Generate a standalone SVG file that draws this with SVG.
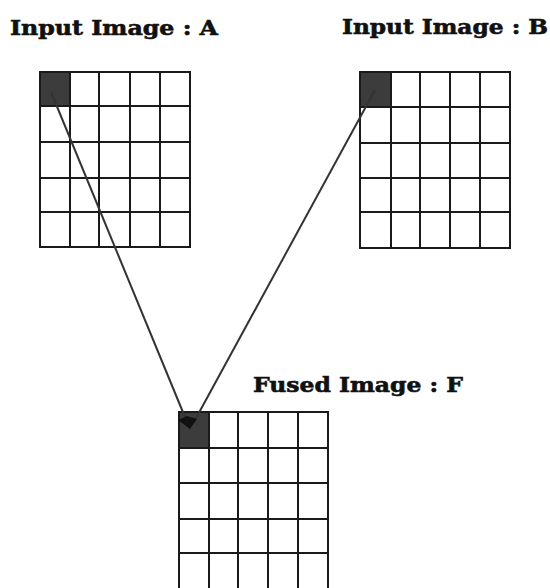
<svg xmlns="http://www.w3.org/2000/svg" width="550" height="588" viewBox="0 0 550 588">
<style>
.bg{fill:#ffffff}
.dark{fill:#3c3c3c;stroke:#1a1a1a;stroke-width:2}
.grid{fill:none;stroke:#1a1a1a;stroke-width:2}
.lbl{font-family:"DejaVu Serif","Liberation Serif",serif;font-weight:bold;font-size:20px;fill:#111111;stroke:#111111;stroke-width:0.6}
.conn{stroke:#333333;stroke-width:2;fill:none}
</style>
<rect class="bg" x="0" y="0" width="550" height="588"/>
<g id="nodeA">
<text class="lbl" x="10" y="35" textLength="208" lengthAdjust="spacingAndGlyphs">Input Image : A</text>
<rect class="dark" x="40" y="72" width="30" height="34"/>
<path class="grid" d="M40 72H190V247H40Z M40 106H190 M40 142H190 M40 178H190 M40 212H190 M70 72V247 M99 72V247 M130 72V247 M160 72V247"/>
</g>
<g id="nodeB">
<text class="lbl" x="342" y="34" textLength="206" lengthAdjust="spacingAndGlyphs">Input Image : B</text>
<rect class="dark" x="360" y="72" width="31" height="35"/>
<path class="grid" d="M360 72H510V248H360Z M360 107H510 M360 143H510 M360 178H510 M360 212H510 M391 72V248 M420 72V248 M450 72V248 M480 72V248"/>
</g>
<g id="nodeF">
<text class="lbl" x="253" y="392" textLength="210" lengthAdjust="spacingAndGlyphs">Fused Image : F</text>
<rect class="dark" x="179" y="412" width="30" height="36"/>
<path class="grid" d="M179 412H328V588 M179 412V588 M179 448H328 M179 483H328 M179 519H328 M179 553H328 M209 412V588 M238 412V588 M268 412V588 M298 412V588"/>
</g>
<g id="connectors">
<line class="conn" x1="51" y1="92" x2="187" y2="422"/>
<line class="conn" x1="375" y1="90" x2="195" y2="420"/>
<path d="M178 420 L187 416 L197 419 L190 429 Z" fill="#111111"/>
</g>
</svg>
